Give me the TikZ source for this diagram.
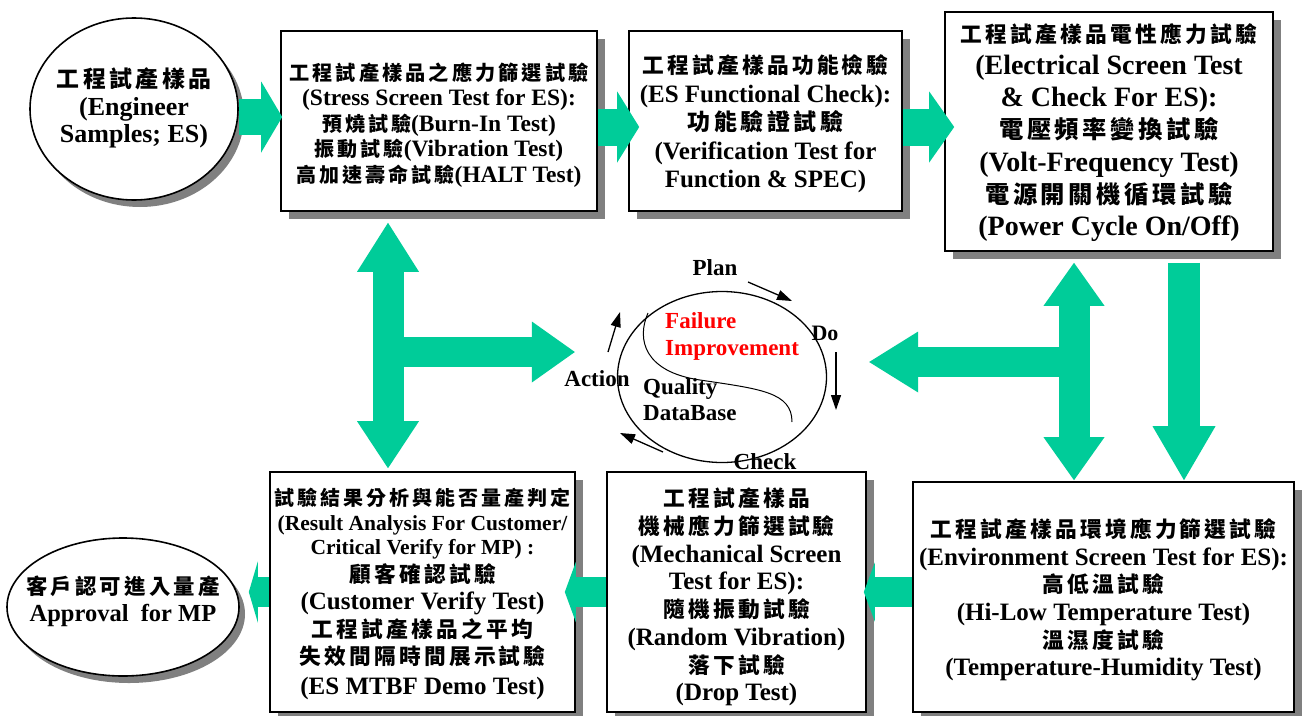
\documentclass[tikz,border=0pt]{standalone}
\usepackage{fontspec}
\setmainfont{Liberation Serif}
\newfontfamily\cjk{Noto Sans CJK TC}[LetterSpace=15]
\usetikzlibrary{shapes.geometric,shadows,arrows.meta}
\definecolor{flowc}{RGB}{0,204,153}
\definecolor{shade}{RGB}{128,128,128}
\newcommand\fsz[1]{\fontsize{#1}{#1}\selectfont}
% Chinese run, slightly letter-spaced
\newcommand\zh[2][21.7]{{\fsz{#1}\cjk\bfseries #2}}

\begin{document}
\begin{tikzpicture}[x=1pt,y=-1pt,
  box/.style={draw=black, line width=1.6pt, fill=white, inner sep=0pt,
    drop shadow={shadow xshift=8pt, shadow yshift=-8pt, fill=shade, opacity=1}},
  oval/.style={ellipse, draw=black, line width=1.6pt, fill=white, inner sep=0pt,
    drop shadow={shadow xshift=6pt, shadow yshift=-7pt, fill=shade, opacity=1}},
  txt/.style={inner sep=0pt, align=center},
  fat/.style={draw=flowc, line width=#1},
  lbl/.style={inner sep=0pt, font=\fsz{23}\bfseries},
  small/.style={line width=1.3pt, -{Triangle[length=15pt,width=10pt]}},
]
\fill[white] (0,0) rectangle (1303,715);
\useasboundingbox (0,0) rectangle (1303,715);

% ---- PDCA cycle in the middle ----
\node[ellipse, draw, line width=1.3pt, minimum width=209pt, minimum height=171pt, inner sep=0pt] (pdca) at (722,377) {};
\draw[line width=1pt] (648,313) .. controls (636,340) and (645,372) .. (700,380)
  .. controls (760,389) and (792,392) .. (792,422);
\node[lbl] (plan) at (715,268) {Plan};
\node[lbl, font=\fsz{22}\bfseries] (do) at (825,333) {Do};
\node[lbl] (check) at (765,462) {Check};
\node[lbl] (act) at (597,379) {Action};
\node[lbl, text=red, align=left, anchor=west, font=\fontsize{23}{27}\selectfont\bfseries] (fi) at (665,336) {Failure\\Improvement};
\node[lbl, align=left, anchor=west, font=\fontsize{23}{26}\selectfont\bfseries] (qd) at (643,400) {Quality\\DataBase};

\coordinate (planA) at (748,282);  \coordinate (planB) at (792,301);
\coordinate (doA) at (836,352);    \coordinate (doB) at (836,410);
\coordinate (chkA) at (663,452);   \coordinate (chkB) at (620,433);
\coordinate (actA) at (608,352);   \coordinate (actB) at (620,312);
\draw[small] (planA) -- (planB);
\draw[small] (doA) -- (doB);
\draw[small] (chkA) -- (chkB);
\draw[small] (actA) -- (actB);

% ---- start and end ovals ----
\node[oval, minimum width=208pt, minimum height=182pt] (e1) at (134,109) {};
\node[txt, font=\fontsize{26}{27.5}\selectfont\bfseries] (e1t) at ([yshift=1pt]e1.center)
  {\zh[22.9]{工程試產樣品}\\(Engineer\\Samples; ES)};
\node[oval, minimum width=232pt, minimum height=138pt] (e2) at (123,607) {};
\node[txt, font=\fontsize{24.5}{27}\selectfont\bfseries] (e2t) at ([yshift=6pt]e2.center)
  {\zh[21.4]{客戶認可進入量產}\\Approval\ \ for MP};

% ---- test stage boxes ----
\node[box, minimum width=316pt, minimum height=180pt] (b1) at (439,121) {};
\node[txt, font=\fontsize{23.5}{25.5}\selectfont\bfseries] (b1t) at ([yshift=-4pt]b1.center)
  {\zh[20.2]{工程試產樣品之應力篩選試驗}\\(Stress Screen Test for ES):\\
   \zh[20]{預燒試驗}(Burn-In Test)\\\zh[20]{振動試驗}(Vibration Test)\\
   \zh[20]{高加速壽命試驗}(HALT Test)};

\node[box, minimum width=273pt, minimum height=180pt] (b2) at (765.5,121) {};
\node[txt, font=\fontsize{25}{28.5}\selectfont\bfseries] (b2t) at ([yshift=-3pt]b2.center)
  {\zh{工程試產樣品功能檢驗}\\(ES Functional Check):\\\zh[23]{功能驗證試驗}\\
   (Verification Test for\\Function \& SPEC)};

\node[box, minimum width=328pt, minimum height=239pt] (b3) at (1109,131.5) {};
\node[txt, font=\fontsize{28}{32.3}\selectfont\bfseries] (b3t) at ([yshift=-1pt]b3.center)
  {\zh{工程試產樣品電性應力試驗}\\(Electrical Screen Test\\\& Check For ES):\\
   \zh[24.3]{電壓頻率變換試驗}\\(Volt-Frequency Test)\\\zh[24.3]{電源開關機循環試驗}\\
   (Power Cycle On/Off)};

\node[box, minimum width=381pt, minimum height=230pt] (b4) at (1103.5,597) {};
\node[txt, font=\fontsize{25}{27.6}\selectfont\bfseries] (b4t) at ([yshift=-3pt]b4.center)
  {\zh{工程試產樣品環境應力篩選試驗}\\(Environment Screen Test for ES):\\\zh{高低溫試驗}\\
   (Hi-Low Temperature Test)\\\zh{溫濕度試驗}\\(Temperature-Humidity Test)};

\node[box, minimum width=259pt, minimum height=240pt] (b5) at (736.5,592) {};
\node[txt, font=\fontsize{25}{27.7}\selectfont\bfseries] (b5t) at ([yshift=-5pt]b5.center)
  {\zh{工程試產樣品}\\\zh{機械應力篩選試驗}\\(Mechanical Screen\\Test for ES):\\
   \zh{隨機振動試驗}\\(Random Vibration)\\\zh{落下試驗}\\(Drop Test)};

\node[box, minimum width=305pt, minimum height=240pt] (b6) at (422.5,592) {};
\node[txt, font=\fontsize{25}{27.5}\selectfont\bfseries] (b6t) at ([yshift=-2pt]b6.center)
  {\zh[20]{試驗結果分析與能否量產判定}\\[-3pt]{\fsz{21.5}(Result Analysis For Customer/}\\[-3pt]
   {\fsz{21.5}Critical Verify for MP) :}\\\zh{顧客確認試驗}\\(Customer Verify Test)\\
   \zh{工程試產樣品之平均}\\\zh{失效間隔時間展示試驗}\\[2pt](ES MTBF Demo Test)};

% ---- block arrows ----
\coordinate (ya) at (0,117);
\coordinate (yb) at (0,127);
\coordinate (yc) at (0,592);
\coordinate (lc) at (388,352);
\coordinate (rc) at (1074,362);
\coordinate (dn) at (1184,0);

\draw[fat=36pt, -{Triangle[length=21pt,width=71pt,line width=0pt]}, shorten >=-2pt]
  (e1.east |- ya) -- (b1.west |- ya);
\draw[fat=37pt, -{Triangle[length=22pt,width=71pt,line width=0pt]}, shorten >=-11pt]
  (b1.east |- yb) -- (b2.west |- yb);
\draw[fat=37pt, -{Triangle[length=25pt,width=71pt,line width=0pt]}, shorten >=-10pt]
  (b2.east |- yb) -- (b3.west |- yb);

\draw[fat=31pt, {Triangle[length=49pt,width=62pt,line width=0pt]}-{Triangle[length=47pt,width=62pt,line width=0pt]},
  shorten <=11pt, shorten >=3pt] (b1.south -| lc) -- (b6.north -| lc);
\draw[fat=30pt, -{Triangle[length=43pt,width=61pt,line width=0pt]}, shorten >=42pt]
  (lc) -- (lc -| pdca.west);

\draw[fat=31pt, {Triangle[length=43pt,width=61pt,line width=0pt]}-{Triangle[length=43pt,width=61pt,line width=0pt]},
  shorten <=11pt, shorten >=1pt] (b3.south -| rc) -- (b4.north -| rc);
\draw[fat=30pt, -{Triangle[length=49pt,width=61pt,line width=0pt]}, shorten >=42pt]
  (rc) -- (rc -| pdca.east);
\draw[fat=32pt, -{Triangle[length=54pt,width=63pt,line width=0pt]}, shorten <=11pt, shorten >=1pt]
  (b3.south -| dn) -- (b4.north -| dn);

\draw[fat=30pt, -{Triangle[length=11pt,width=59pt,line width=0pt]}, shorten >=-3pt]
  (b4.west |- yc) -- (b5.east |- yc);
\draw[fat=30pt, -{Triangle[length=11pt,width=60pt,line width=0pt]}, shorten >=-11pt]
  (b5.west |- yc) -- (b6.east |- yc);
\draw[fat=30pt, -{Triangle[length=9pt,width=61pt,line width=0pt]}, shorten >=9pt]
  (b6.west |- yc) -- (e2.east |- yc);
\end{tikzpicture}
\end{document}
